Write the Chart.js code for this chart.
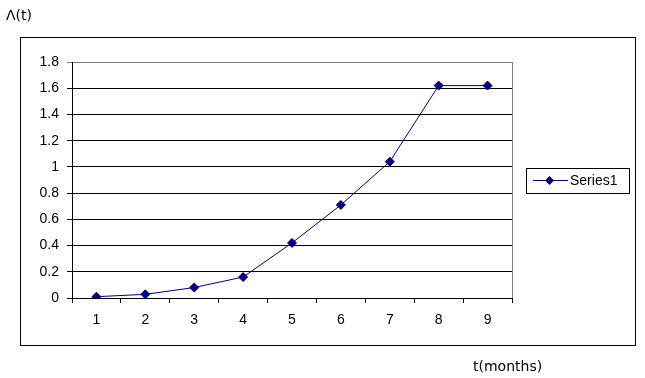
<!DOCTYPE html>
<html>
<head>
<meta charset="utf-8">
<script src="https://cdn.jsdelivr.net/npm/chart.js@4.4.1/dist/chart.umd.min.js"></script>
<style>
  html, body { margin: 0; padding: 0; background: #fff; }
  #wrap { width: 645px; height: 378px; position: relative; }
</style>
</head>
<body>
<div id="wrap"><canvas id="lambda-chart"></canvas></div>
<script>
const months = ["1", "2", "3", "4", "5", "6", "7", "8", "9"];
const lambdaValues = [0.01, 0.028, 0.08, 0.16, 0.42, 0.71, 1.04, 1.62, 1.62];
const seriesName = "Series1";
const yTitle = "\u039B(t)";
const xTitle = "t(months)";

const navy = '#000080';

// frame, right border of plot area, legend and axis titles
const excelFrame = {
    id: 'excelFrame',
    afterDraw(chart) {
        const ctx = chart.ctx;
        const area = chart.chartArea;
        ctx.save();
        ctx.lineWidth = 1;

        // outer chart border
        ctx.strokeStyle = '#000';
        ctx.strokeRect(20.5, 37.5, 615, 308);

        // plot area right border (gray)
        ctx.strokeStyle = '#808080';
        ctx.beginPath();
        ctx.moveTo(Math.round(area.right) + 0.5, area.top);
        ctx.lineTo(Math.round(area.right) + 0.5, area.bottom);
        ctx.stroke();

        // legend
        ctx.strokeStyle = '#000';
        ctx.strokeRect(526.5, 168.5, 103, 25);
        ctx.strokeStyle = navy;
        ctx.beginPath();
        ctx.moveTo(533, 180.5);
        ctx.lineTo(568, 180.5);
        ctx.stroke();
        ctx.fillStyle = navy;
        ctx.beginPath();
        ctx.moveTo(549.5, 176);
        ctx.lineTo(554, 180.5);
        ctx.lineTo(549.5, 185);
        ctx.lineTo(545, 180.5);
        ctx.closePath();
        ctx.fill();
        ctx.fillStyle = '#000';
        ctx.font = '14px "Liberation Sans", Arial, sans-serif';
        ctx.textBaseline = 'middle';
        ctx.textAlign = 'left';
        ctx.fillText(seriesName, 570, 181);

        // axis titles
        ctx.font = '14px "DejaVu Sans", sans-serif';
        ctx.fillText(yTitle, 6, 16);
        ctx.fillText(xTitle, 473, 367);
        ctx.restore();
    }
};

const ctx = document.getElementById('lambda-chart').getContext('2d');
const chart = new Chart(ctx, {
    type: 'line',
    data: {
        labels: months,
        datasets: [{
            label: seriesName,
            data: lambdaValues,
            borderColor: navy,
            backgroundColor: navy,
            borderWidth: 1,
            pointStyle: 'rectRot',
            pointRadius: 4.5,
            pointBackgroundColor: navy,
            pointBorderColor: navy,
            tension: 0,
            fill: false
        }]
    },
    options: {
        responsive: true,
        maintainAspectRatio: false,
        animation: false,
        layout: { padding: { left: 20, right: 133, top: 62, bottom: 32 } },
        plugins: {
            legend: { display: false },
            tooltip: { enabled: false }
        },
        scales: {
            x: {
                type: 'category',
                offset: true,
                afterFit: (scale) => { scale.height = 48; },
                grid: {
                    offset: true,
                    drawOnChartArea: false,
                    drawTicks: true,
                    tickLength: 5,
                    color: '#000'
                },
                border: { color: '#000', width: 1 },
                ticks: {
                    color: '#000',
                    padding: 9,
                    maxRotation: 0,
                    font: { family: '"Liberation Sans", Arial, sans-serif', size: 14 }
                }
            },
            y: {
                min: 0,
                max: 1.8,
                afterFit: (scale) => { scale.width = 52; },
                grid: {
                    color: (c) => (c.tick && c.tick.value >= 1.79 ? '#808080' : '#000'),
                    tickLength: 5,
                    drawTicks: true
                },
                border: { color: '#000', width: 1 },
                ticks: {
                    stepSize: 0.2,
                    color: '#000',
                    padding: 8,
                    font: { family: '"Liberation Sans", Arial, sans-serif', size: 14 },
                    callback: (v) => String(Number(v.toFixed(1)))
                }
            }
        }
    },
    plugins: [excelFrame]
});
</script>
</body>
</html>
